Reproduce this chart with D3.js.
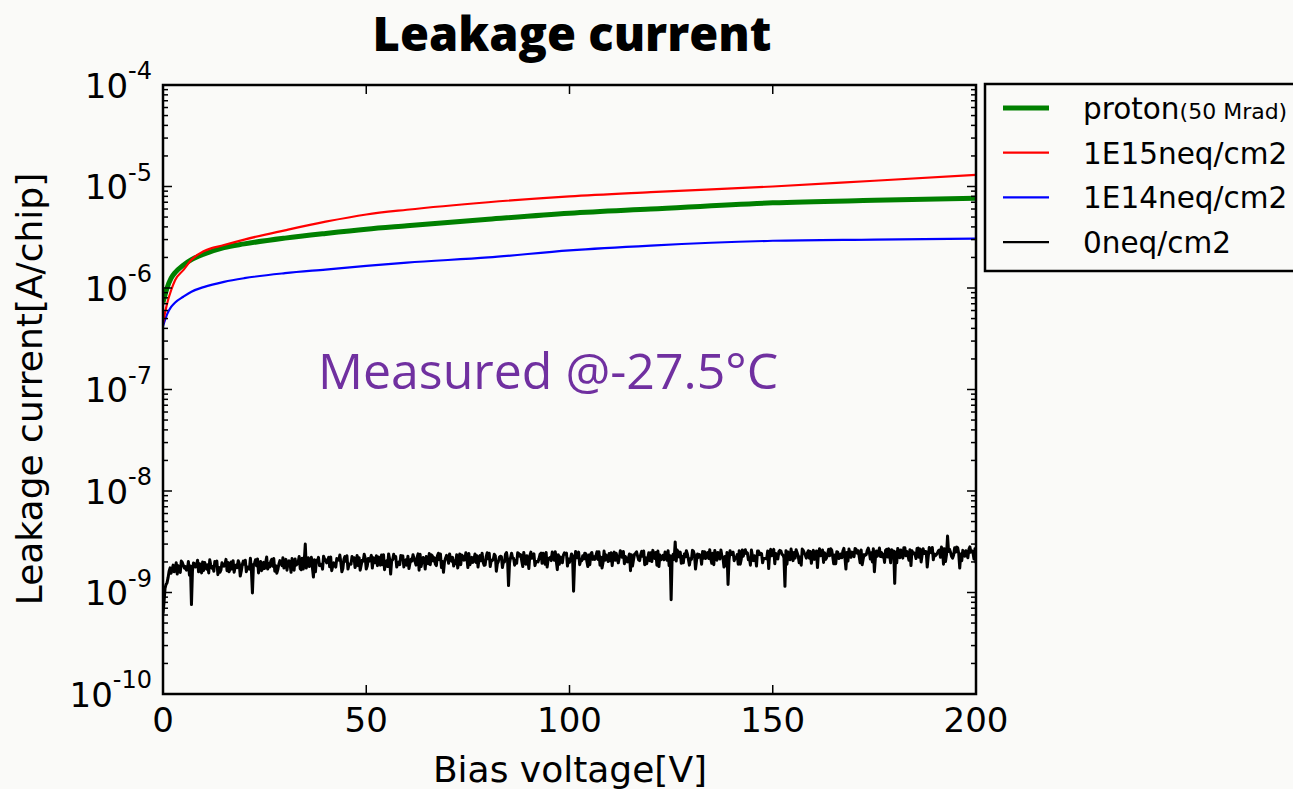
<!DOCTYPE html>
<html lang="en">
<head>
<meta charset="UTF-8">
<script src="https://d3js.org/d3.v7.min.js"></script>
<title>Leakage current</title>
<style>
  body { margin: 0; background: #fafaf8; }
  svg { display: block; }
</style>
</head>
<body>
<svg width="1293" height="789"></svg>
<script>
// smooth curves, bias voltage [V]
var voltages = [0, 1, 2, 3, 5, 7, 10, 15, 20, 30, 40, 50, 60, 80, 100, 120, 150, 175, 200]
// currents in uA/chip
var proton = [0.72, 1.0, 1.25, 1.42, 1.68, 1.9, 2.15, 2.5, 2.72, 3.1, 3.45, 3.8, 4.1, 4.75, 5.45, 6.0, 6.9, 7.3, 7.65]
var neq1e15 = [0.45, 0.7, 0.95, 1.2, 1.5, 1.9, 2.3, 2.65, 3.0, 3.7, 4.5, 5.3, 5.9, 7.0, 8.0, 8.8, 10.0, 11.4, 13.0]
var neq1e14 = [0.42, 0.55, 0.65, 0.72, 0.82, 0.92, 1.02, 1.15, 1.25, 1.4, 1.52, 1.65, 1.78, 2.0, 2.35, 2.62, 2.92, 3.0, 3.07]
// unirradiated, readings at each whole volt 0..200, in nA/chip
var neq0 = [0.62, 1.25, 1.55, 1.72, 1.60, 1.85, 1.70, 0.76, 1.78, 1.92,
  1.65, 1.88, 1.74, 1.95, 1.58, 1.82, 1.98, 1.70, 1.86, 1.45,
  1.90, 1.76, 0.99, 1.84, 2.02, 1.72, 1.93, 1.81, 1.55, 1.97,
  1.86, 2.05, 1.74, 1.91, 1.68, 3.00, 1.80, 1.42, 2.01, 1.88,
  2.10, 1.79, 1.96, 2.12, 1.60, 2.03, 1.92, 2.20, 1.84, 2.08,
  1.70, 2.15, 1.96, 2.24, 1.88, 2.05, 1.52, 2.18, 1.99, 2.30,
  1.86, 2.12, 2.02, 1.66, 2.21, 1.95, 2.35, 1.90, 2.10, 1.58,
  2.26, 2.04, 1.92, 2.40, 2.08, 1.76, 2.22, 1.98, 2.31, 1.85,
  2.15, 2.06, 1.62, 2.28, 2.00, 1.17, 2.19, 1.94, 2.36, 2.08,
  1.72, 2.25, 2.02, 2.44, 1.90, 2.18, 2.30, 1.68, 2.12, 2.38,
  1.98, 1.03, 2.20, 2.06, 2.42, 1.88, 2.26, 2.12, 1.74, 2.34,
  2.05, 2.50, 1.96, 2.22, 2.14, 1.64, 2.38, 2.10, 2.28, 1.92,
  2.46, 2.16, 1.80, 2.32, 2.08, 0.85, 3.15, 2.24, 1.96, 2.40,
  2.12, 1.70, 2.36, 2.18, 2.48, 1.94, 2.26, 2.14, 1.78, 1.20,
  2.42, 2.20, 1.90, 2.52, 2.10, 2.30, 1.82, 2.44, 2.16, 1.72,
  2.38, 2.22, 2.56, 1.15, 2.28, 2.06, 2.46, 1.86, 2.34, 2.18,
  2.60, 1.76, 2.40, 2.12, 2.30, 1.92, 2.50, 2.20, 1.70, 2.44,
  2.26, 2.58, 1.88, 2.36, 2.14, 1.60, 2.48, 2.24, 2.66, 1.96,
  1.23, 2.42, 2.18, 2.54, 1.84, 2.38, 2.22, 2.70, 1.78, 2.46,
  2.30, 2.62, 1.90, 3.60, 2.26, 2.50, 1.74, 2.40, 2.20, 2.58,
  1.95]
// readings at V + 0.25, V = 0..199, nA/chip
var neq0Q1 = [0.80, 1.40, 1.70, 1.96, 1.58, 1.74, 2.02, 1.64, 1.86, 1.72,
  1.98, 1.56, 1.80, 2.04, 1.66, 1.90, 1.60, 2.06, 1.76, 1.62,
  2.08, 1.70, 1.88, 2.14, 1.64, 1.96, 1.78, 2.16, 1.68, 1.84,
  2.12, 1.92, 1.66, 2.00, 2.18, 1.74, 1.88, 2.10, 2.22, 1.70,
  1.96, 2.24, 1.84, 2.08, 1.72, 2.30, 1.90, 1.76, 2.20, 2.04,
  1.82, 2.32, 1.96, 2.12, 2.36, 1.80, 2.06, 2.26, 1.88, 1.78,
  2.28, 2.04, 1.86, 2.38, 2.14, 1.92, 2.30, 1.84, 2.40, 2.00,
  1.94, 2.22, 2.36, 1.88, 2.10, 2.42, 1.98, 2.30, 2.06, 1.86,
  2.44, 2.12, 1.92, 2.26, 2.38, 1.96, 2.18, 2.46, 2.04, 1.90,
  2.32, 2.40, 2.00, 1.94, 2.48, 2.22, 2.08, 2.36, 1.96, 2.44,
  2.14, 1.98, 2.50, 2.30, 2.04, 2.40, 2.12, 2.52, 1.98, 2.26,
  2.46, 2.08, 2.20, 2.54, 2.00, 2.36, 2.44, 2.06, 2.56, 2.18,
  2.02, 2.48, 2.34, 2.10, 2.58, 2.22, 2.04, 2.50, 2.40, 2.12,
  2.60, 2.06, 2.30, 2.52, 2.16, 2.44, 2.08, 2.62, 2.26, 2.10,
  2.50, 2.36, 2.12, 2.64, 2.20, 2.06, 2.56, 2.42, 2.16, 2.46,
  2.66, 2.14, 2.38, 2.58, 2.10, 2.48, 2.30, 2.68, 2.18, 2.54,
  2.12, 2.44, 2.62, 2.20, 2.70, 2.34, 2.16, 2.56, 2.48, 2.22,
  2.72, 2.28, 2.14, 2.60, 2.46, 2.18, 2.74, 2.38, 2.24, 2.64,
  2.50, 2.20, 2.76, 2.32, 2.58, 2.16, 2.68, 2.42, 2.26, 2.78,
  2.36, 2.22, 2.70, 2.54, 2.18, 2.80, 2.40, 2.28, 2.66, 2.48]
// readings at V + 0.5
var neq0Mid = [1.10, 1.62, 1.86, 1.52, 2.04, 1.80, 1.48, 1.95, 2.08, 1.56,
  1.84, 2.10, 1.62, 1.50, 1.96, 2.12, 1.70, 1.58, 2.06, 1.88,
  1.60, 2.18, 1.94, 1.56, 1.72, 2.24, 2.02, 1.62, 1.90, 2.20,
  1.66, 1.58, 2.14, 2.26, 1.70, 1.96, 2.22, 1.60, 1.84, 2.28,
  2.06, 1.64, 1.78, 2.34, 2.12, 1.70, 2.26, 1.92, 1.66, 2.38,
  2.16, 1.74, 2.30, 1.86, 1.68, 2.40, 2.10, 1.78, 2.32, 2.00,
  1.72, 2.36, 2.22, 1.80, 1.70, 2.42, 2.04, 2.30, 1.76, 2.18,
  2.40, 1.82, 1.74, 2.34, 2.46, 1.88, 2.12, 1.78, 2.44, 2.26,
  1.80, 2.38, 2.02, 1.76, 2.48, 2.20, 1.86, 2.42, 1.80, 2.30,
  2.50, 1.84, 2.16, 2.44, 1.78, 2.06, 2.52, 1.90, 2.34, 1.82,
  2.40, 2.54, 1.88, 2.14, 1.80, 2.48, 2.30, 1.86, 2.56, 2.02,
  1.84, 2.44, 2.58, 1.92, 2.20, 1.82, 2.52, 2.36, 1.88, 2.46,
  2.60, 1.86, 2.10, 2.50, 1.84, 2.38, 2.62, 1.94, 2.24, 1.86,
  2.54, 2.40, 1.90, 2.16, 2.64, 1.88, 2.48, 2.28, 1.84, 2.58,
  2.06, 1.90, 2.62, 2.42, 1.86, 2.30, 2.56, 1.96, 2.14, 2.66,
  1.92, 2.52, 2.34, 1.90, 2.68, 2.18, 1.96, 2.60, 2.44, 1.94,
  2.28, 2.70, 1.98, 2.40, 2.62, 1.92, 2.20, 2.72, 2.04, 2.50,
  2.66, 1.96, 2.36, 2.74, 2.00, 2.56, 2.26, 1.98, 2.70, 2.46,
  1.96, 2.62, 2.76, 2.08, 2.40, 2.72, 2.00, 2.54, 2.78, 2.10,
  2.44, 2.80, 2.02, 2.66, 2.34, 2.76, 2.06, 2.58, 2.82, 2.14]
// readings at V + 0.75
var neq0Q3 = [1.20, 1.75, 1.60, 1.84, 1.98, 1.66, 1.82, 1.92, 1.60, 2.00,
  1.70, 1.86, 2.02, 1.76, 1.84, 1.64, 2.00, 1.78, 1.94, 2.04,
  1.78, 1.64, 2.10, 1.90, 1.98, 1.70, 2.12, 1.84, 2.06, 1.74,
  1.96, 2.16, 1.86, 1.72, 2.04, 2.20, 1.76, 2.08, 1.90, 2.14,
  2.22, 1.82, 2.16, 1.98, 2.26, 1.88, 2.08, 2.32, 1.86, 2.18,
  2.04, 2.20, 1.84, 2.34, 1.98, 2.14, 2.38, 1.92, 2.24, 2.10,
  1.94, 2.16, 2.40, 2.06, 2.26, 1.88, 2.20, 2.44, 2.02, 2.32,
  2.14, 2.04, 1.96, 2.28, 2.20, 2.00, 2.40, 2.16, 1.98, 2.46,
  2.08, 2.30, 2.22, 2.02, 2.14, 2.44, 2.06, 2.28, 2.48, 2.10,
  2.18, 2.02, 2.38, 2.26, 2.12, 2.50, 2.04, 2.24, 2.46, 2.14,
  2.28, 2.20, 2.06, 2.44, 2.34, 2.12, 2.52, 2.22, 2.08, 2.42,
  2.30, 2.16, 2.48, 2.26, 2.40, 2.10, 2.28, 2.54, 2.20, 2.06,
  2.36, 2.56, 2.18, 2.44, 2.30, 2.12, 2.50, 2.26, 2.58, 2.16,
  2.34, 2.22, 2.54, 2.40, 2.14, 2.60, 2.30, 2.20, 2.48, 2.36,
  2.18, 2.58, 2.28, 2.46, 2.62, 2.24, 2.36, 2.16, 2.56, 2.30,
  2.42, 2.60, 2.20, 2.50, 2.36, 2.64, 2.24, 2.46, 2.58, 2.28,
  2.56, 2.30, 2.46, 2.66, 2.26, 2.52, 2.40, 2.22, 2.68, 2.36,
  2.44, 2.62, 2.32, 2.50, 2.70, 2.28, 2.48, 2.60, 2.34, 2.56,
  2.72, 2.38, 2.30, 2.64, 2.46, 2.74, 2.34, 2.52, 2.62, 2.40,
  2.58, 2.68, 2.36, 2.48, 2.76, 2.42, 2.60, 2.38, 2.50, 2.70]

var legendNames = ["proton", "1E15neq/cm2", "1E14neq/cm2", "0neq/cm2"]
var colors = ["#008000", "#ff0000", "#0000ff", "#000000"]
var xTicks = [0, 50, 100, 150, 200]
var yExps = [-4, -5, -6, -7, -8, -9, -10]

var svg = d3.select("svg")
var marge = { top: 85, left: 163, right: 976, bottom: 694 }

var x = d3.scaleLinear().domain([0, 200]).range([marge.left, marge.right])
var y = d3.scaleLog().domain([1e-10, 1e-4]).range([marge.bottom, marge.top])

var plot = svg.append("g")

svg.append("clipPath").attr("id", "clip")
  .append("rect")
  .attr("x", marge.left).attr("y", marge.top)
  .attr("width", marge.right - marge.left).attr("height", marge.bottom - marge.top)

var lines = plot.append("g").attr("clip-path", "url(#clip)")

var line = d3.line()
  .x(function(d){ return x(d[0]) })
  .y(function(d){ return y(d[1]) })

var smooth = d3.line()
  .x(function(d){ return x(d[0]) })
  .y(function(d){ return y(d[1]) })
  .curve(d3.curveMonotoneX)

// merge the quarter-volt readings into one series
var blackPts = []
neq0.forEach(function(v, i){
  blackPts.push([i, v * 1e-9])
  if (i < 200) {
    blackPts.push([i + 0.25, neq0Q1[i] * 1e-9])
    blackPts.push([i + 0.5, neq0Mid[i] * 1e-9])
    blackPts.push([i + 0.75, neq0Q3[i] * 1e-9])
  }
})

lines.append("path")
  .datum(blackPts)
  .attr("fill", "none").attr("stroke", colors[3]).attr("stroke-width", 3)
  .attr("stroke-linejoin", "round")
  .attr("d", line)

lines.append("path")
  .datum(voltages.map(function(v, i){ return [v, neq1e14[i] * 1e-6] }))
  .attr("fill", "none").attr("stroke", colors[2]).attr("stroke-width", 2.2)
  .attr("d", smooth)

lines.append("path")
  .datum(voltages.map(function(v, i){ return [v, proton[i] * 1e-6] }))
  .attr("fill", "none").attr("stroke", colors[0]).attr("stroke-width", 5)
  .attr("d", smooth)

lines.append("path")
  .datum(voltages.map(function(v, i){ return [v, neq1e15[i] * 1e-6] }))
  .attr("fill", "none").attr("stroke", colors[1]).attr("stroke-width", 2.2)
  .attr("d", smooth)

// ticks (inward, on all four sides)
var ticks = plot.append("g").attr("stroke", "#000").attr("stroke-width", 1.5)
var minor = []
for (var e = -10; e < -4; e++) {
  for (var m = 2; m <= 9; m++) minor.push(m * Math.pow(10, e))
}
yExps.forEach(function(e){
  var yy = y(Math.pow(10, e))
  ticks.append("line").attr("x1", marge.left).attr("x2", marge.left + 9).attr("y1", yy).attr("y2", yy)
  ticks.append("line").attr("x1", marge.right).attr("x2", marge.right - 9).attr("y1", yy).attr("y2", yy)
})
minor.forEach(function(v){
  var yy = y(v)
  ticks.append("line").attr("x1", marge.left).attr("x2", marge.left + 5).attr("y1", yy).attr("y2", yy)
  ticks.append("line").attr("x1", marge.right).attr("x2", marge.right - 5).attr("y1", yy).attr("y2", yy)
})
xTicks.forEach(function(t){
  ticks.append("line").attr("x1", x(t)).attr("x2", x(t)).attr("y1", marge.bottom).attr("y2", marge.bottom - 9)
  ticks.append("line").attr("x1", x(t)).attr("x2", x(t)).attr("y1", marge.top).attr("y2", marge.top + 9)
})

// frame
plot.append("rect")
  .attr("x", marge.left).attr("y", marge.top)
  .attr("width", marge.right - marge.left).attr("height", marge.bottom - marge.top)
  .attr("fill", "none").attr("stroke", "#000").attr("stroke-width", 2.5)

var font = "DejaVu Sans, sans-serif"

// x tick labels
plot.append("g").selectAll("text").data(xTicks).enter().append("text")
  .attr("x", function(d){ return x(d) }).attr("y", 732)
  .attr("text-anchor", "middle").attr("font-family", font).attr("font-size", 34)
  .text(function(d){ return d })

// y tick labels 10^e
var yl = plot.append("g").selectAll("text").data(yExps).enter().append("text")
  .attr("x", 152).attr("y", function(d){ return y(Math.pow(10, d)) + 12.5 })
  .attr("text-anchor", "end").attr("font-family", font).attr("font-size", 34)
yl.append("tspan").text("10")
yl.append("tspan").attr("dy", -18.5).attr("font-size", 24).text(function(d){ return "-" + Math.abs(d) })

// axis titles
svg.append("text").attr("x", 570).attr("y", 782)
  .attr("text-anchor", "middle").attr("font-family", font).attr("font-size", 36)
  .text("Bias voltage[V]")
svg.append("text").attr("transform", "translate(42,389) rotate(-90)")
  .attr("text-anchor", "middle").attr("font-family", font).attr("font-size", 36)
  .text("Leakage current[A/chip]")

// title
svg.append("text").attr("x", 572).attr("y", 51)
  .attr("text-anchor", "middle").attr("font-family", "Open Sans, sans-serif")
  .attr("font-weight", 800).attr("font-size", 47)
  .text("Leakage current")

// annotation
svg.append("text").attr("x", 318).attr("y", 389)
  .attr("font-family", "Open Sans, sans-serif").attr("font-size", 50)
  .attr("fill", "#7030a0")
  .text("Measured @-27.5\u00b0C")

// legend
var lg = svg.append("g")
lg.append("rect").attr("x", 985).attr("y", 84).attr("width", 340).attr("height", 187)
  .attr("fill", "#fafaf8").attr("stroke", "#000").attr("stroke-width", 2.5)
var rows = lg.selectAll(".row").data(legendNames).enter().append("g")
  .attr("transform", function(d, i){ return "translate(0," + (108 + i * 44.7) + ")" })
rows.append("line").attr("x1", 1003).attr("x2", 1049)
  .attr("stroke", function(d, i){ return colors[i] })
  .attr("stroke-width", function(d, i){ return i == 0 ? 5 : 2.2 })
var lt = rows.append("text").attr("x", 1083).attr("y", 11)
  .attr("font-family", font).attr("font-size", 29.5)
lt.append("tspan").text(function(d){ return d })
lt.filter(function(d, i){ return i == 0 }).append("tspan").attr("font-size", 22).text("(50 Mrad)")
</script>
</body>
</html>
